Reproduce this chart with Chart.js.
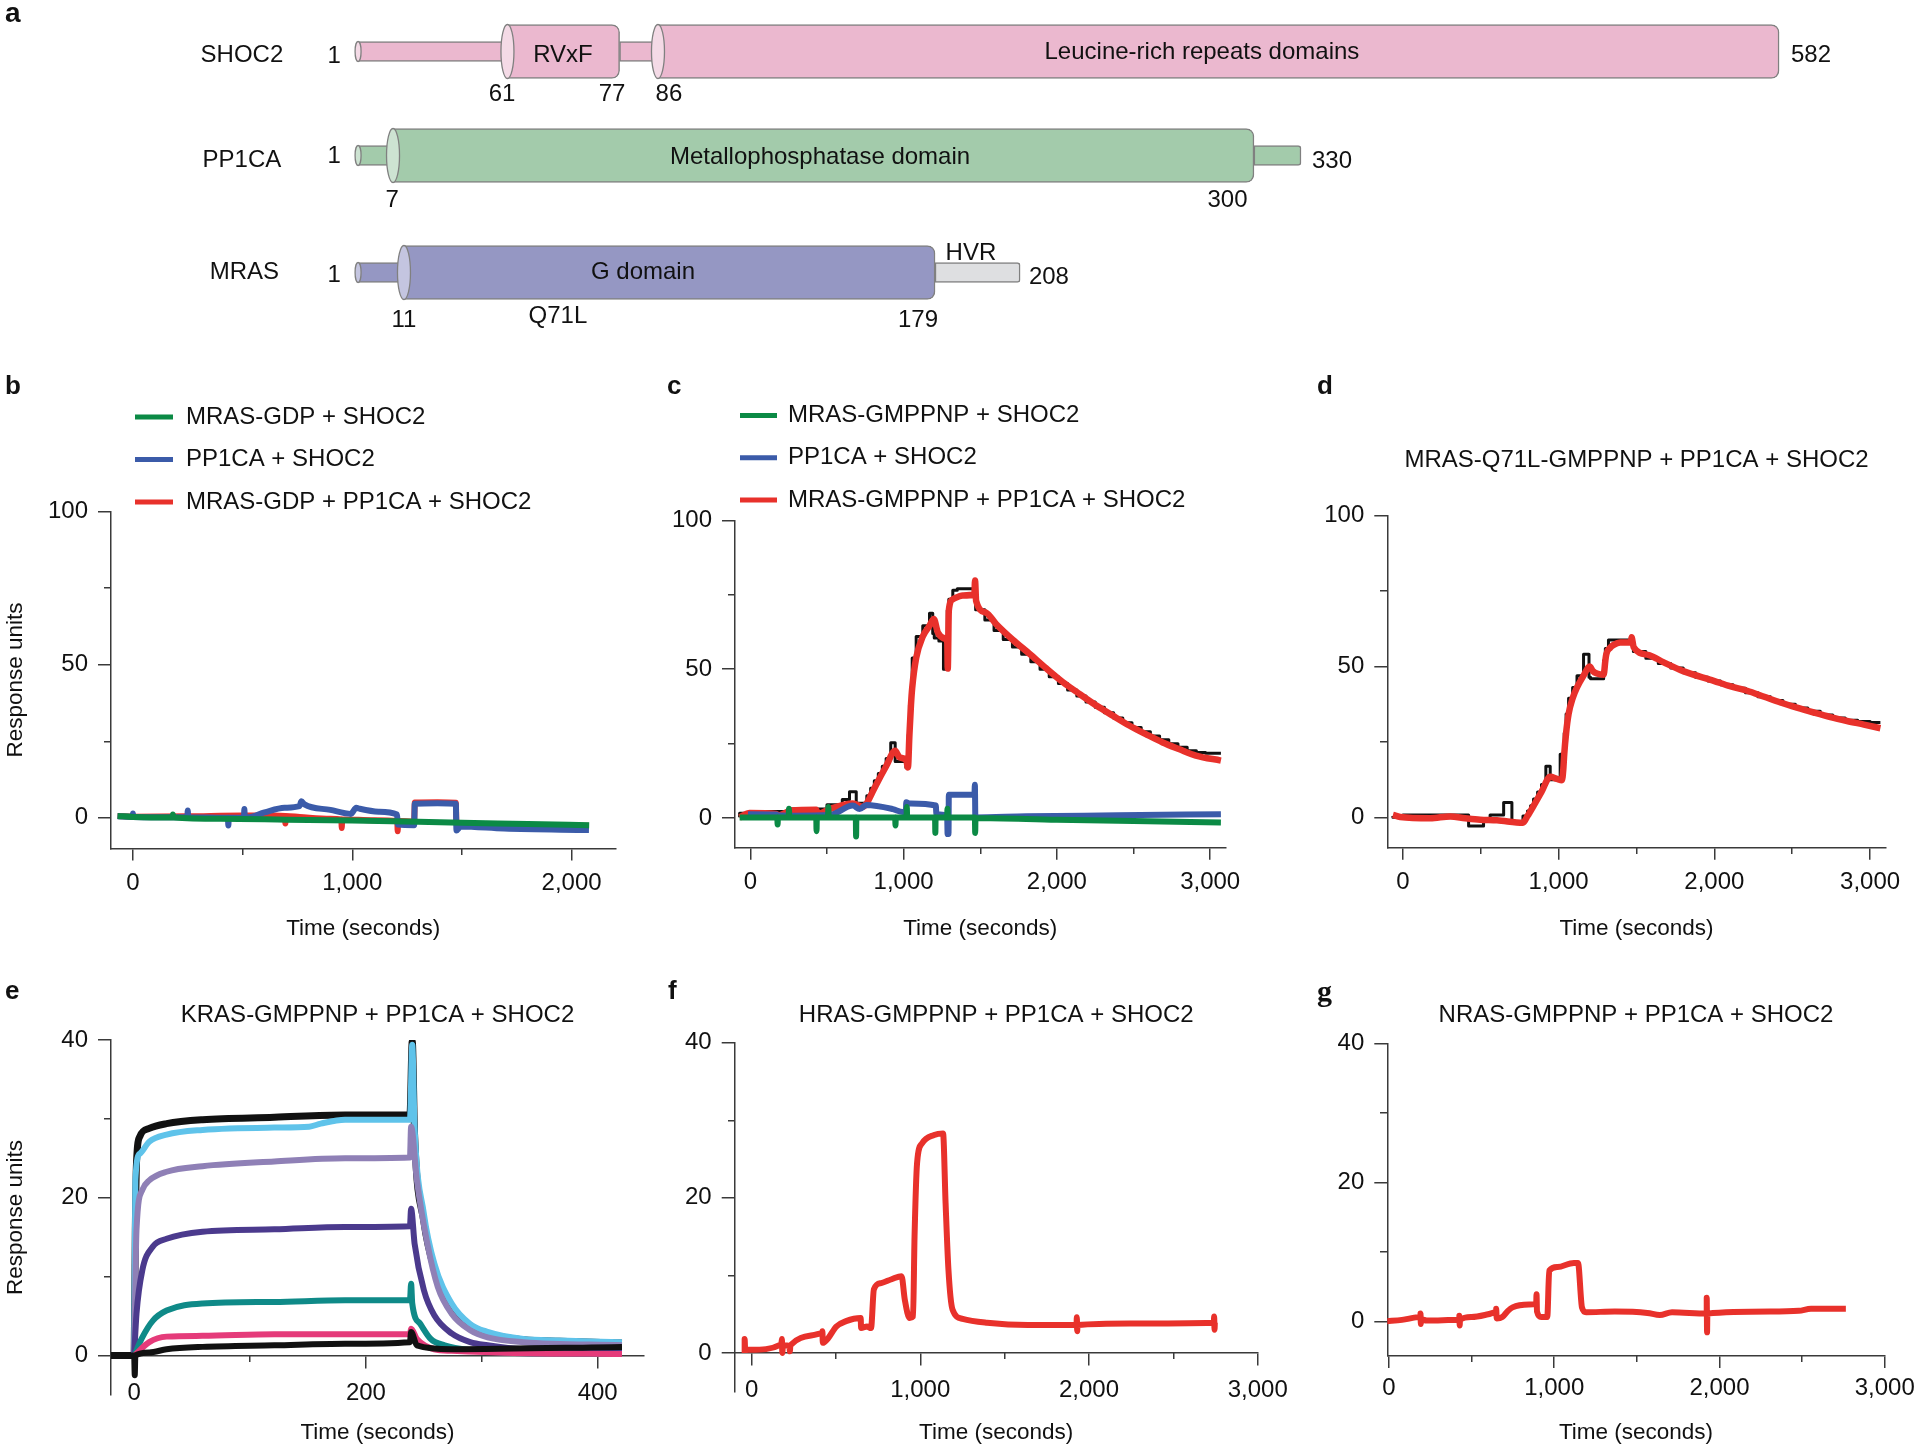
<!DOCTYPE html>
<html>
<head>
<meta charset="utf-8">
<script src="https://cdn.jsdelivr.net/npm/chart.js@4.4.1/dist/chart.umd.min.js"></script>
<style>
  html, body { margin: 0; padding: 0; background: #fff; overflow: hidden; }
  body { width: 1920px; height: 1451px; position: relative; }
  canvas { position: absolute; }
</style>
</head>
<body>
<canvas id="a1" width="1920" height="131" style="left:0px;top:-14px"></canvas>
<canvas id="a2" width="1920" height="131" style="left:0px;top:90px"></canvas>
<canvas id="a3" width="1920" height="131" style="left:0px;top:207px"></canvas>
<canvas id="pb" width="640" height="600" style="left:0px;top:370px"></canvas>
<canvas id="pc" width="640" height="600" style="left:640px;top:370px"></canvas>
<canvas id="pd" width="640" height="600" style="left:1280px;top:370px"></canvas>
<canvas id="pe" width="660" height="481" style="left:0px;top:970px"></canvas>
<canvas id="pf" width="700" height="481" style="left:640px;top:970px"></canvas>
<canvas id="pg" width="660" height="481" style="left:1280px;top:970px"></canvas>
<script>
// ================ data ================
// panel a: residue boundaries and where they sit on the schematic axis (0-1000, not to residue scale)
const shoc2Residues = [1, 61, 77, 86, 582];
const shoc2Marks = [186.5, 264.3, 322.7, 342.7, 926.6];
const shoc2Kinds = ["tube", "domain", "tube", "domain"];
const pp1caResidues = [1, 7, 300, 330];
const pp1caMarks = [186.5, 204.7, 653.1, 677.6];
const pp1caKinds = ["tube", "domain", "tube"];
const mrasResidues = [1, 11, 179, 208];
const mrasMarks = [186.5, 210.4, 487.0, 531.3];
const mrasKinds = ["tube", "domain", "hvr"];

// tick values
const ruMajor100 = [0, 50, 100];
const ruMinor100 = [25, 75];
const ruMajor40 = [0, 20, 40];
const ruMinor40 = [10, 30];
const secMajor2000 = [0, 1000, 2000];
const secMinor2000 = [500, 1500];
const secMajor3000 = [0, 1000, 2000, 3000];
const secMinor3000 = [500, 1500, 2500];
const secMajor400 = [0, 200, 400];
const secMinor400 = [100, 300];

// sensorgrams: [time (s), response units]
// b
const bGreen = [[-70,0.6],[0,0.3],[180,0.1],[182,1.1],[186,0.1],[400,-0.3],[700,-0.6],[1000,-0.9],[1300,-1.3],[1500,-1.6],[1800,-2.0],[2080,-2.4]];
const bBlue = [[-70,0.5],[-2,0.3],[0,1.4],[2,0.3],[248,0.2],[250,2.4],[252,0.2],[433,0.0],[435,-2.5],[437,0.0],[506,0.0],[508,2.9],[510,0.2],[523,0.2],[600,1.8],[691,3.3],[759,3.8],[768,5.4],[782,4.4],[900,2.6],[994,1.3],[1018,3.3],[1032,3.0],[1120,2.0],[1204,1.1],[1208,-2.2],[1282,-2.4],[1285,4.6],[1388,4.8],[1472,4.6],[1475,-4.1],[1494,-2.8],[1692,-3.5],[2079,-4.0]];
const bRed = [[-70,0.6],[0,0.4],[250,0.5],[500,0.8],[640,0.8],[693,0.6],[695,-1.8],[697,0.6],[760,0.3],[900,-0.3],[950,-0.5],[952,-3.3],[954,-0.5],[1100,-0.8],[1205,-1.0],[1207,-4.4],[1209,-1.0],[1282,-1.2],[1285,5.0],[1388,5.1],[1472,4.9],[1475,-2.0],[1600,-2.2],[2079,-2.6]];
// c
const cGreen = [[-70,0.2],[176,0.2],[178,-2.2],[180,0.2],[250,0.2],[252,3.1],[254,0.2],[430,0.2],[432,-4.4],[434,0.2],[507,0.2],[509,3.7],[511,0.2],[688,0.2],[690,-6.2],[692,0.2],[945,0.2],[947,-2.5],[949,0.2],[1019,0.2],[1021,3.7],[1023,0.2],[1205,0.2],[1207,-5.0],[1209,0.2],[1284,0.2],[1286,3.1],[1288,0.2],[1465,0.2],[1467,-5.0],[1469,0.0],[2000,-0.6],[2500,-1.0],[3070,-1.5]];
const cBlue = [[-15,1.3],[170,1.2],[180,0.9],[280,0.8],[517,1.0],[669,4.2],[713,3.0],[756,4.4],[930,3.0],[995,2.0],[1015,2.0],[1017,5.3],[1038,4.9],[1210,4.2],[1214,1.3],[1284,0.8],[1287,-5.4],[1293,-5.4],[1295,7.8],[1462,7.8],[1465,11.2],[1468,0.2],[1800,0.6],[2400,0.9],[3070,1.3]];
const cRed = [[-70,0.2],[-4,1.7],[170,1.4],[180,0.8],[267,2.5],[430,2.8],[440,1.3],[517,3.0],[669,4.9],[734,3.8],[756,4.7],[790,8.0],[821,11.2],[886,17.4],[945,22.6],[973,20.4],[1017,19.5],[1028,17.0],[1038,28.0],[1048,38.0],[1056,43.7],[1082,53.8],[1125,61.0],[1169,64.6],[1197,66.9],[1223,62.4],[1273,60.2],[1285,59.0],[1288,50.2],[1295,69.8],[1321,73.5],[1386,74.8],[1462,75.1],[1466,79.8],[1473,73.0],[1538,69.0],[1603,65.2],[1710,60.0],[1821,55.2],[1930,50.3],[2038,45.7],[2150,41.6],[2255,37.9],[2365,34.4],[2472,31.1],[2580,28.2],[2690,25.4],[2800,23.1],[2907,21.0],[3070,19.3]];
const cBlack = [[-70,0.3],[0,1.6],[250,2.2],[500,3.0],[600,4.5],[647,6.2],[691,8.8],[760,5.0],[785,7.5],[809,10],[835,12.5],[861,15],[886,17.4],[916,20],[945,25.3],[1015,19],[1030,17],[1038,28],[1048,38],[1056,43.7],[1082,53.8],[1125,61],[1169,64.6],[1190,68.8],[1200,62],[1230,60.5],[1260,59.5],[1285,50],[1295,69.8],[1321,73.5],[1350,76.5],[1380,77],[1462,77],[1466,80],[1470,74],[1530,70],[1590,66.5],[1650,63],[1710,60],[1770,57.5],[1830,55],[1890,52.5],[1950,50],[2010,47.5],[2070,45.2],[2130,43],[2190,41],[2250,39],[2310,37.2],[2370,35.4],[2430,33.6],[2490,32],[2550,30.4],[2610,29],[2670,27.6],[2730,26.3],[2790,25],[2850,23.8],[2910,22.6],[2970,22],[3070,21.8]];
// d
const dRed = [[-64,0.9],[-17,0.2],[176,-0.2],[304,0.4],[400,-0.2],[497,-0.7],[604,-0.9],[771,-1.7],[800,0.5],[839,3.9],[890,8.5],[946,13.5],[990,12.8],[1021,12.4],[1030,16],[1036,21],[1048,28],[1064,34.3],[1090,39.5],[1118,43.1],[1160,47],[1199,50],[1220,48.5],[1246,47.7],[1289,47.3],[1300,52],[1306,54.1],[1330,56.2],[1353,57.2],[1396,58],[1465,58],[1468,59.7],[1482,56.4],[1580,53.8],[1675,51.4],[1800,48.5],[1996,45.3],[2100,43.5],[2210,42],[2320,40],[2424,38.1],[2530,36.4],[2638,34.8],[2745,33.3],[2852,32],[2960,30.8],[3066,29.6]];
const dBlack = [[-64,0.5],[0,0.1],[422,0.9],[518,-2.8],[560,-0.3],[647,0.9],[700,5.0],[771,-1.5],[800,0.5],[820,2.2],[839,3.9],[865,6.2],[890,8.5],[918,11],[946,17],[1010,12.5],[1036,21],[1048,28],[1064,34.3],[1090,39.5],[1118,43.1],[1160,47],[1195,54.1],[1205,46.5],[1289,46],[1300,52],[1320,56],[1342,58.8],[1471,58.8],[1480,57.5],[1560,55],[1640,52.8],[1720,51],[1800,49.5],[1880,48],[1960,46.5],[2040,45.2],[2120,44],[2200,42.8],[2280,41.3],[2360,40],[2440,38.8],[2520,37.5],[2600,36.3],[2680,35.2],[2760,34],[2840,33],[2920,32.2],[3000,31.8],[3066,31.5]];
// e (KRAS concentration series)
const eBlackTop = [[-20,0],[0,0],[1,15.9],[2,24.4],[5,27.8],[13,28.8],[28,29.4],[59,29.9],[121,30.2],[182,30.5],[238,30.5],[240,39.8],[242,28],[250,17],[259,11],[274,6.2],[290,3.8],[305,2.8],[336,2.0],[367,1.8],[421,1.6]];
const eCyan = [[0,0],[1,22.2],[5,25.6],[13,27.1],[28,28],[59,28.6],[121,28.9],[151,29],[161,29.4],[182,29.9],[238,29.9],[240,39.4],[242,29],[250,18],[259,11.7],[274,6.6],[290,4],[305,3],[336,2.1],[367,1.9],[421,1.7]];
const eLavender = [[0,0],[2,15.9],[7,21],[13,22.2],[28,23.3],[59,24],[121,24.6],[182,25],[238,25.1],[239,29],[244,22.2],[253,14.2],[262,8.7],[274,5.3],[290,3.2],[305,2.3],[336,1.7],[421,1.3]];
const ePurple = [[0,0],[2,5.3],[7,10.8],[16,13.8],[28,14.8],[59,15.7],[121,16],[182,16.3],[238,16.4],[239,18.6],[242,14.2],[250,8.3],[259,5.1],[274,2.8],[290,1.7],[305,1.3],[336,0.8],[421,0.6]];
const eTeal = [[0,0],[7,2.3],[16,4.4],[28,5.7],[59,6.6],[121,6.8],[182,7],[238,7],[239,9.1],[240,6.6],[247,4],[256,2.1],[268,1.3],[290,0.7],[336,0.3],[421,0.2]];
const ePink = [[0,0],[13,1.7],[28,2.4],[59,2.5],[121,2.7],[238,2.7],[239,3.4],[244,2.1],[259,0.8],[274,0.6],[336,0.3],[421,0.2]];
const eBlackLow = [[-20,0],[0,0],[0.5,-2.5],[1,0],[13,0.4],[28,0.8],[59,1.1],[121,1.3],[182,1.5],[238,1.7],[239,3.0],[244,1.3],[274,0.8],[421,1.1]];
// f
const fRed = [[-41,0],[-41,1.8],[-38,0.4],[-5,0.4],[176,1.1],[180,1.8],[182,0],[186,1.0],[225,0.9],[227,0.2],[230,1.0],[418,2.6],[420,2.8],[422,1.3],[454,1.9],[502,3.4],[560,4.1],[647,4.5],[649,3.2],[684,3.4],[708,3.2],[725,8.2],[768,9],[830,9.5],[889,9.9],[908,6.9],[937,4.5],[957,4.7],[966,15],[981,24.5],[1010,27],[1082,28.1],[1135,28.3],[1150,19.3],[1167,10.7],[1191,5.6],[1251,4.4],[1396,3.9],[1638,3.6],[1926,3.6],[1928,4.6],[1930,2.8],[1932,3.6],[2242,3.8],[2740,3.9],[2742,4.7],[2744,3.0],[2746,3.9]];
// g
const gRed = [[-15,0],[79,0.2],[191,0.6],[191,1.1],[193,-0.4],[195,0.3],[228,0.1],[426,0.2],[426,0.8],[428,-0.6],[430,0.2],[500,0.6],[600,1.0],[649,1.3],[649,1.8],[652,0.4],[686,0.6],[720,1.5],[748,2.0],[847,2.4],[891,2.5],[893,3.9],[896,1.4],[921,0.6],[958,0.6],[970,7.3],[1020,7.8],[1119,8.4],[1144,8.4],[1168,2.0],[1193,1.3],[1366,1.4],[1564,1.2],[1639,0.9],[1713,1.3],[1923,1.1],[1923,3.4],[1925,-1.6],[1927,1.1],[2307,1.4],[2480,1.5],[2554,1.8],[2765,1.8]];

// ================ styles ================
const INK = "#111111";
const AXIS = "#3a3a3a";
const FONT = '"Liberation Sans", Arial, Helvetica, sans-serif';
const RED = "#e8312b";
const GREEN = "#0b8a45";
const BLUE = "#3b5ba9";
const BLACK = "#111111";
Chart.defaults.font.family = FONT;
Chart.defaults.color = INK;

// ================ plugins ================
const panelLetter = {
	id: "panelLetter",
	afterDraw(chart, args, opts) {
		if (!opts.text) return;
		const ctx = chart.ctx;
		ctx.save();
		ctx.font = opts.font || `bold 26px ${FONT}`;
		ctx.fillStyle = INK;
		ctx.textAlign = "left";
		ctx.textBaseline = "middle";
		ctx.fillText(opts.text, opts.x, opts.y);
		ctx.restore();
	},
};

// legend stacked one item per row, like the figure
const stackLegend = {
	id: "stackLegend",
	afterDraw(chart, args, opts) {
		if (!opts.display) return;
		const ctx = chart.ctx;
		ctx.save();
		ctx.font = `24px ${FONT}`;
		ctx.textBaseline = "middle";
		ctx.textAlign = "left";
		let row = 0;
		chart.data.datasets.forEach((ds) => {
			if (!ds.label) return;
			const y = opts.y + row * opts.rowGap;
			ctx.strokeStyle = ds.borderColor;
			ctx.lineWidth = 5;
			ctx.beginPath();
			ctx.moveTo(opts.x, y);
			ctx.lineTo(opts.x + opts.lineLen, y);
			ctx.stroke();
			ctx.fillStyle = INK;
			ctx.fillText(ds.label, opts.textX, y);
			row++;
		});
		ctx.restore();
	},
};

// left end of each cylinder drawn as an ellipse
const cylinderCaps = {
	id: "cylinderCaps",
	afterDatasetDraw(chart, args) {
		const ds = chart.data.datasets[args.index];
		if (!ds.capColor) return;
		const ctx = chart.ctx;
		ctx.save();
		args.meta.data.forEach((bar) => {
			const { x, base, y, height } = bar.getProps(["x", "base", "y", "height"], true);
			ctx.beginPath();
			ctx.ellipse(Math.min(x, base), y, ds.capRx, height / 2, 0, 0, Math.PI * 2);
			ctx.fillStyle = ds.capColor;
			ctx.fill();
			ctx.lineWidth = 1.3;
			ctx.strokeStyle = "#808080";
			ctx.stroke();
		});
		ctx.restore();
	},
};

const diagramText = {
	id: "diagramText",
	afterDraw(chart, args, opts) {
		const { ctx, chartArea, scales } = chart;
		const midY = (chartArea.top + chartArea.bottom) / 2;
		ctx.save();
		ctx.font = `24px ${FONT}`;
		ctx.fillStyle = INK;
		ctx.textBaseline = "middle";
		for (const it of opts.items) {
			ctx.textAlign = it.align || "center";
			ctx.fillText(it.text, scales.x.getPixelForValue(it.u), midY + it.dy);
		}
		ctx.restore();
	},
};

// ================ panel a ================
function domainChart(canvasId, p) {
	const datasets = p.kinds.map((kind, i) => {
		const isDomain = kind === "domain";
		return {
			data: [[p.marks[i], p.marks[i + 1]]],
			backgroundColor: kind === "hvr" ? "#dedfe1" : p.fill,
			borderColor: "#808080",
			borderWidth: 1.5,
			borderSkipped: false,
			borderRadius: isDomain ? { topRight: 8, bottomRight: 8 } : { topRight: 3, bottomRight: 3 },
			barThickness: isDomain ? 54 : 20,
			grouped: false,
			order: isDomain ? 0 : 1,
			capColor: isDomain || i === 0 ? p.cap : null,
			capRx: isDomain ? 6.5 : 3,
		};
	});
	return new Chart(document.getElementById(canvasId), {
		type: "bar",
		data: { labels: [p.name], datasets },
		options: {
			indexAxis: "y",
			responsive: false,
			animation: false,
			devicePixelRatio: 1,
			layout: { padding: 0 },
			plugins: {
				legend: { display: false },
				tooltip: { enabled: false },
				diagramText: { items: p.labels },
				panelLetter: p.letter || {},
			},
			scales: {
				x: { type: "linear", min: 0, max: 1000, display: false },
				y: { type: "category", display: false },
			},
		},
		plugins: [cylinderCaps, diagramText, panelLetter],
	});
}

domainChart("a1", {
	name: "SHOC2",
	marks: shoc2Marks,
	kinds: shoc2Kinds,
	fill: "#ebb8cf",
	cap: "#f4dae6",
	letter: { text: "a", x: 5, y: 28, font: `bold 28px ${FONT}` },
	labels: [
		{ text: "SHOC2", u: 126.0, dy: 3.5 },
		{ text: String(shoc2Residues[0]), u: 174.0, dy: 5 },
		{ text: "RVxF", u: 293.2, dy: 4 },
		{ text: "Leucine-rich repeats domains", u: 626.0, dy: 1 },
		{ text: String(shoc2Residues[1]), u: 261.5, dy: 42.5 },
		{ text: String(shoc2Residues[2]), u: 318.8, dy: 42.5 },
		{ text: String(shoc2Residues[3]), u: 348.4, dy: 42.5 },
		{ text: String(shoc2Residues[4]), u: 932.8, dy: 3.5, align: "left" },
	],
});

domainChart("a2", {
	name: "PP1CA",
	marks: pp1caMarks,
	kinds: pp1caKinds,
	fill: "#a3cbab",
	cap: "#cde3d2",
	labels: [
		{ text: "PP1CA", u: 126.0, dy: 4.5 },
		{ text: String(pp1caResidues[0]), u: 174.0, dy: 1 },
		{ text: "Metallophosphatase domain", u: 427.1, dy: 1.5 },
		{ text: String(pp1caResidues[1]), u: 204.2, dy: 44.5 },
		{ text: String(pp1caResidues[2]), u: 639.3, dy: 44.5 },
		{ text: String(pp1caResidues[3]), u: 683.3, dy: 5.5, align: "left" },
	],
});

domainChart("a3", {
	name: "MRAS",
	marks: mrasMarks,
	kinds: mrasKinds,
	fill: "#9597c3",
	cap: "#c4c5e0",
	labels: [
		{ text: "MRAS", u: 127.3, dy: 0 },
		{ text: String(mrasResidues[0]), u: 174.0, dy: 2.5 },
		{ text: "G domain", u: 334.9, dy: 0 },
		{ text: "HVR", u: 505.7, dy: -19.5 },
		{ text: String(mrasResidues[1]), u: 210.4, dy: 47.5 },
		{ text: "Q71L", u: 290.6, dy: 43.5 },
		{ text: String(mrasResidues[2]), u: 478.1, dy: 47.5 },
		{ text: String(mrasResidues[3]), u: 535.9, dy: 4.5, align: "left" },
	],
});

// ================ panels b-g ================
function axisGrid(len) {
	return { display: true, drawOnChartArea: false, drawTicks: true, tickLength: len, color: AXIS, lineWidth: 1.5 };
}

function sensorgram(canvasId, p) {
	const datasets = p.series.map((s) => ({
		label: s.label,
		data: s.points.map(([t, v]) => ({ x: t, y: v })),
		borderColor: s.color,
		borderWidth: s.width || 6,
		pointRadius: 0,
		fill: false,
		stepped: s.stepped || false,
		cubicInterpolationMode: "monotone",
		borderJoinStyle: "round",
		xAxisID: "x",
		yAxisID: "y",
	}));
	const [xMin, xMax] = p.xRange;
	const [yMin, yMax] = p.yRange;
	return new Chart(document.getElementById(canvasId), {
		type: "line",
		data: { datasets },
		options: {
			responsive: false,
			animation: false,
			devicePixelRatio: 1,
			layout: { padding: p.pad },
			plugins: {
				legend: { display: false },
				tooltip: { enabled: false },
				title: p.title
					? { display: true, text: p.title, fullSize: false, color: INK, font: { size: 24, weight: "normal" }, padding: { top: 0, bottom: p.titleGap } }
					: { display: false },
				stackLegend: p.legend || { display: false },
				panelLetter: p.letter,
			},
			scales: {
				x: {
					type: "linear",
					min: xMin,
					max: xMax,
					position: p.xAtZero ? { y: 0 } : "bottom",
					afterBuildTicks: (s) => { s.ticks = p.xMajor.map((v) => ({ value: v })); },
					afterFit: (s) => { s.height = p.xH; },
					ticks: { autoSkip: false, maxRotation: 0, minRotation: 0, padding: p.xPad, color: INK, font: { size: 24 }, callback: (v) => v.toLocaleString("en-US") },
					grid: axisGrid(12),
					border: { display: true, color: AXIS, width: 1.5 },
					title: { display: true, text: "Time (seconds)", color: INK, font: { size: 22.5 }, padding: 0 },
				},
				xMinor: {
					type: "linear",
					axis: "x",
					min: xMin,
					max: xMax,
					position: { y: p.xAtZero ? 0 : yMin },
					afterBuildTicks: (s) => { s.ticks = p.xMinor.map((v) => ({ value: v })); },
					ticks: { display: false },
					grid: axisGrid(6),
					border: { display: false },
				},
				y: {
					type: "linear",
					min: yMin,
					max: yMax,
					position: "left",
					afterBuildTicks: (s) => { s.ticks = p.yMajor.map((v) => ({ value: v })); },
					afterFit: (s) => { s.width = p.yW; },
					ticks: { padding: 10, color: INK, font: { size: 24 }, callback: (v) => String(v) },
					grid: axisGrid(13),
					border: { display: true, color: AXIS, width: 1.5 },
					title: p.yTitle
						? { display: true, text: "Response units", color: INK, font: { size: 22.5 }, padding: { top: 2.5, bottom: 0 } }
						: { display: false },
				},
				yMinor: {
					type: "linear",
					axis: "y",
					min: yMin,
					max: yMax,
					position: { x: xMin },
					afterBuildTicks: (s) => { s.ticks = p.yMinor.map((v) => ({ value: v })); },
					ticks: { display: false },
					grid: axisGrid(7),
					border: { display: false },
				},
			},
		},
		plugins: [stackLegend, panelLetter],
	});
}

// b
sensorgram("pb", {
	series: [
		{ label: "MRAS-GDP + SHOC2", points: bGreen, color: GREEN },
		{ label: "PP1CA + SHOC2", points: bBlue, color: BLUE },
		{ label: "MRAS-GDP + PP1CA + SHOC2", points: bRed, color: RED },
	],
	xRange: [-100, 2200], yRange: [-10, 100],
	xMajor: secMajor2000, xMinor: secMinor2000, yMajor: ruMajor100, yMinor: ruMinor100,
	pad: { left: 0, top: 141.5, right: 24.5, bottom: 27.5 },
	yW: 111, xH: 94, xPad: 8, yTitle: true,
	legend: { display: true, x: 135, lineLen: 38, textX: 186, y: 47, rowGap: 42.5 },
	letter: { text: "b", x: 5, y: 17 },
});

// c
sensorgram("pc", {
	series: [
		{ label: "MRAS-GMPPNP + SHOC2", points: cGreen, color: GREEN },
		{ label: "PP1CA + SHOC2", points: cBlue, color: BLUE },
		{ label: "MRAS-GMPPNP + PP1CA + SHOC2", points: cRed, color: RED, width: 6.5 },
		{ points: cBlack, color: BLACK, width: 3, stepped: "after" },
	],
	xRange: [-100, 3100], yRange: [-10, 100],
	xMajor: secMajor3000, xMinor: secMinor3000, yMajor: ruMajor100, yMinor: ruMinor100,
	pad: { left: 0, top: 150.4, right: 54.5, bottom: 27.5 },
	yW: 95, xH: 94.7, xPad: 8,
	legend: { display: true, x: 100, lineLen: 37, textX: 148, y: 45.6, rowGap: 42.2 },
	letter: { text: "c", x: 27, y: 17 },
});

// d
sensorgram("pd", {
	series: [
		{ points: dRed, color: RED, width: 6.5 },
		{ points: dBlack, color: BLACK, width: 3, stepped: "after" },
	],
	title: "MRAS-Q71L-GMPPNP + PP1CA + SHOC2", titleGap: 40.5,
	xRange: [-100, 3100], yRange: [-10, 100],
	xMajor: secMajor3000, xMinor: secMinor3000, yMajor: ruMajor100, yMinor: ruMinor100,
	pad: { left: 0, top: 76.3, right: 34.3, bottom: 27.5 },
	yW: 107.3, xH: 94.7, xPad: 8,
	letter: { text: "d", x: 37, y: 17 },
});

// e
sensorgram("pe", {
	series: [
		{ points: eBlackLow, color: BLACK },
		{ points: ePink, color: "#e53b7a" },
		{ points: eTeal, color: "#0f8a88" },
		{ points: ePurple, color: "#4b3a8d" },
		{ points: eLavender, color: "#8f80b6" },
		{ points: eCyan, color: "#5fc3ea" },
		{ points: eBlackTop, color: BLACK, width: 7 },
	],
	title: "KRAS-GMPPNP + PP1CA + SHOC2", titleGap: 10.6,
	xRange: [-20, 440], yRange: [-5, 40], xAtZero: true,
	xMajor: secMajor400, xMinor: secMinor400, yMajor: ruMajor40, yMinor: ruMinor40,
	pad: { left: 0, top: 30.6, right: 16, bottom: 56 },
	yW: 111, xH: 90.9, xPad: 11, yTitle: true,
	letter: { text: "e", x: 5, y: 22 },
});

// f
sensorgram("pf", {
	series: [{ points: fRed, color: RED }],
	title: "HRAS-GMPPNP + PP1CA + SHOC2", titleGap: 13.3,
	xRange: [-100, 3000], yRange: [-5, 40], xAtZero: true,
	xMajor: secMajor3000, xMinor: secMinor3000, yMajor: ruMajor40, yMinor: ruMinor40,
	pad: { left: 0, top: 30.6, right: 82.3, bottom: 59.3 },
	yW: 94.7, xH: 93.6, xPad: 10.7,
	letter: { text: "f", x: 28, y: 22 },
});

// g
sensorgram("pg", {
	series: [{ points: gRed, color: RED }],
	title: "NRAS-GMPPNP + PP1CA + SHOC2", titleGap: 13.9,
	xRange: [-10, 3000], yRange: [-5, 40],
	xMajor: secMajor3000, xMinor: secMinor3000, yMajor: ruMajor40, yMinor: ruMinor40,
	pad: { left: 0, top: 30.6, right: 55.3, bottom: 4.5 },
	yW: 107.3, xH: 90.5, xPad: 5.6,
	letter: { text: "g", x: 37, y: 23, font: 'bold 30px "Liberation Serif", "Times New Roman", serif' },
});
</script>
</body>
</html>
